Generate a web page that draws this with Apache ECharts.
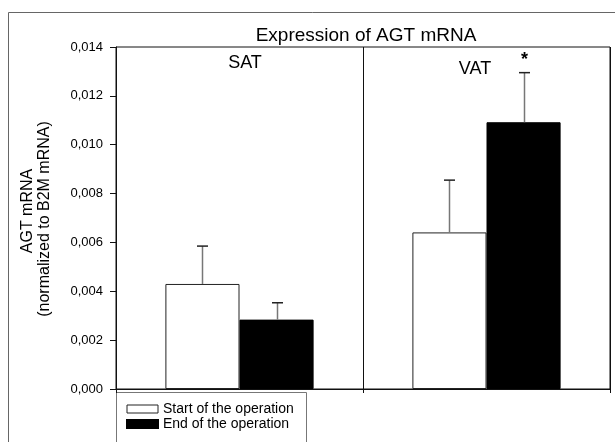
<!DOCTYPE html>
<html>
<head>
<meta charset="utf-8">
<script src="https://cdn.jsdelivr.net/npm/echarts@6/dist/echarts.min.js"></script>
<style>html,body{margin:0;padding:0;background:#fff;}#c{width:615px;height:442px;}</style>
</head>
<body>
<div id="c"></div>
<script>
// ---- data ----
const categories = ['SAT', 'VAT'];
const seriesNames = ['Start of the operation', 'End of the operation'];
const startMean = [0.0043, 0.00641];
const startErr = [0.00155, 0.00214];
const endMean = [0.00284, 0.01092];
const endErr = [0.00069, 0.00203];
const endSignificance = ['', '*'];
const yTicks = [0, 0.002, 0.004, 0.006, 0.008, 0.010, 0.012, 0.014];

const FONT = 'Liberation Sans, Arial, sans-serif';
const BAR_FRAC = 0.6; // 1 - barCategoryGap

function errRender(side, marks) {
  return function (params, api) {
    const ci = api.value(0), m = api.value(1), e = api.value(2);
    const bandW = api.size([1, 0])[0];
    const barW = bandW * BAR_FRAC / 2;
    const off = side * barW / 2;
    const p0 = api.coord([ci, m]);
    const p1 = api.coord([ci, m + e]);
    const x = Math.round(p0[0] + off) + 0.5;
    const children = [
      {type: 'line', shape: {x1: x, y1: p0[1], x2: x, y2: p1[1]}, style: {stroke: '#777', lineWidth: 1.5}},
      {type: 'line', shape: {x1: x - 5.5, y1: p1[1], x2: x + 5.5, y2: p1[1]}, style: {stroke: '#222', lineWidth: 1.5}}
    ];
    if (marks && marks[params.dataIndex]) {
      children.push({type: 'text', style: {text: marks[params.dataIndex], x: x, y: p1[1] - 4, textAlign: 'center', textVerticalAlign: 'bottom', font: 'bold 18px ' + FONT, fill: '#000'}});
    }
    return {type: 'group', children: children};
  };
}

const chart = echarts.init(document.getElementById('c'), null, {renderer: 'canvas'});
chart.setOption({
  animation: false,
  backgroundColor: '#fff',
  title: {
    text: 'Expression of AGT mRNA',
    left: 361, top: 21, textAlign: 'center',
    textStyle: {fontFamily: FONT, fontSize: 19, fontWeight: 'normal', color: '#000'}
  },
  grid: {left: 116, top: 47, width: 494, height: 342, show: true, borderColor: '#111', borderWidth: 1, backgroundColor: 'transparent'},
  legend: {
    orient: 'vertical', left: 117, top: 393,
    padding: [9, 10, 0, 9],
    itemWidth: 31, itemHeight: 8, itemGap: 1,
    textStyle: {fontFamily: FONT, fontSize: 14, color: '#000'},
    data: [
      {name: seriesNames[0], icon: 'rect', itemStyle: {color: '#fff', borderColor: '#222', borderWidth: 1}},
      {name: seriesNames[1], icon: 'rect', itemStyle: {color: '#000'}}
    ]
  },
  xAxis: {
    type: 'category', data: categories, boundaryGap: true,
    axisLine: {lineStyle: {color: '#111'}},
    axisTick: {show: true, length: 4, interval: 0, lineStyle: {color: '#111'}},
    axisLabel: {show: false},
    splitLine: {show: true, interval: 0, lineStyle: {color: '#111', width: 1}}
  },
  yAxis: {
    type: 'value', min: 0, max: 0.014, interval: 0.002,
    axisLine: {show: true, lineStyle: {color: '#111'}},
    axisTick: {show: true, length: 6, lineStyle: {color: '#111'}},
    axisLabel: {
      fontFamily: FONT, fontSize: 13, color: '#000', margin: 13,
      formatter: v => { const t = yTicks.find(k => Math.abs(k - v) < 1e-9); return (t !== undefined ? t : v).toFixed(3).replace('.', ','); }
    },
    splitLine: {show: false}
  },
  graphic: [
    {type: 'rect', shape: {x: 8.5, y: 12.5, width: 640, height: 460}, style: {fill: 'none', stroke: '#666', lineWidth: 1}, silent: true, z: -10},
    {type: 'rect', shape: {x: 116.5, y: 392.5, width: 190, height: 80}, style: {fill: 'none', stroke: '#777', lineWidth: 1}, silent: true},
    {type: 'text', x: 28, y: 211, rotation: Math.PI / 2, style: {text: 'AGT mRNA', font: '16px ' + FONT, fill: '#000', textAlign: 'center', textVerticalAlign: 'middle'}},
    {type: 'text', x: 45, y: 219, rotation: Math.PI / 2, style: {text: '(normalized to B2M mRNA)', font: '16px ' + FONT, fill: '#000', textAlign: 'center', textVerticalAlign: 'middle'}},
    {type: 'text', x: 245, y: 63, style: {text: categories[0], font: '18px ' + FONT, fill: '#000', textAlign: 'center', textVerticalAlign: 'middle'}},
    {type: 'text', x: 475, y: 69, style: {text: categories[1], font: '18px ' + FONT, fill: '#000', textAlign: 'center', textVerticalAlign: 'middle'}}
  ],
  series: [
    {name: seriesNames[0], type: 'bar', data: startMean, barGap: '0%', barCategoryGap: '40%',
      itemStyle: {color: '#fff', borderColor: '#222', borderWidth: 1}},
    {name: seriesNames[1], type: 'bar', data: endMean, barGap: '0%', barCategoryGap: '40%',
      itemStyle: {color: '#000', borderColor: '#000', borderWidth: 1}},
    {type: 'custom', name: 'errStart', renderItem: errRender(-1, null), encode: {x: 0, y: 1}, z: 5,
      data: startMean.map((m, i) => [i, m, startErr[i]])},
    {type: 'custom', name: 'errEnd', renderItem: errRender(1, endSignificance), encode: {x: 0, y: 1}, z: 5,
      data: endMean.map((m, i) => [i, m, endErr[i]])}
  ]
});
</script>
</body>
</html>
